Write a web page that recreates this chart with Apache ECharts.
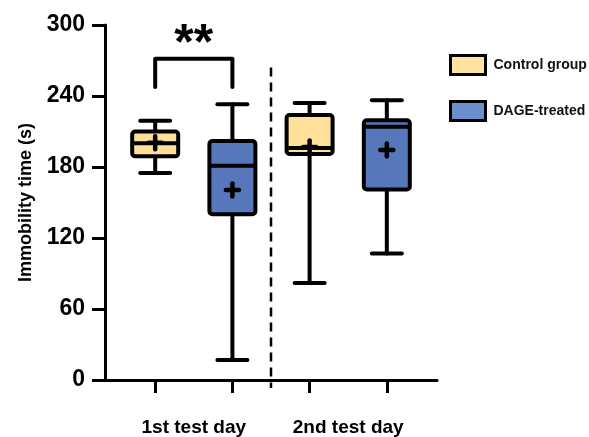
<!DOCTYPE html>
<html>
<head>
<meta charset="utf-8">
<script src="https://cdn.jsdelivr.net/npm/echarts@6/dist/echarts.min.js"></script>
<style>
html,body{margin:0;padding:0;background:#fff;}
#chart{width:589px;height:437px;}
</style>
</head>
<body>
<div id="chart"></div>
<script>
// ---- data ----
var groupLabels = ['1st test day', '2nd test day'];
var seriesNames = ['Control group', 'DAGE-treated'];
// x positions of boxes on the value axis
var controlX = [1, 3];
var dageX = [2, 4];
// [min, Q1, median, Q3, max]
var controlBox = [[175, 189, 200, 210, 219], [82, 191, 196, 224, 234]];
var dageBox = [[17, 140, 181, 202, 233], [107, 161, 214, 219.5, 236.5]];
var controlMean = [200.5, 197];
var dageMean = [160.6, 194.4];
var yTicks = [0, 60, 120, 180, 240, 300];
// significance bracket: [x1, x2, top, end]
var sigBracket = [1, 2, 271.5, 247.6];
var sigText = '**';
var sigTextY = 283;
var dividerX = 2.5;
var dividerTop = 264;

var colors = { control: '#ffe09b', dage: '#5677b9' };

function buildData(xs, boxes, means) {
  return xs.map(function (x, i) { return [x].concat(boxes[i]).concat([means[i]]); });
}

function renderBox(params, api) {
  var x = api.value(0);
  var c = function (v) { return api.coord([x, v]); };
  var pMin = c(api.value(1)), pQ1 = c(api.value(2)), pMed = c(api.value(3)),
      pQ3 = c(api.value(4)), pMax = c(api.value(5)), pMean = c(api.value(6));
  var cx = pMin[0];
  var half = 23, cap = 15, plus = 6.5;
  var fill = api.visual('color');
  var line = { stroke: '#000', lineWidth: 4, lineCap: 'round' };
  return {
    type: 'group',
    children: [
      { type: 'line', shape: { x1: cx, y1: pMax[1], x2: cx, y2: pMin[1] }, style: line },
      { type: 'line', shape: { x1: cx - cap, y1: pMax[1], x2: cx + cap, y2: pMax[1] }, style: line },
      { type: 'line', shape: { x1: cx - cap, y1: pMin[1], x2: cx + cap, y2: pMin[1] }, style: line },
      { type: 'rect', shape: { x: cx - half, y: pQ3[1], width: 2 * half, height: pQ1[1] - pQ3[1], r: 3 },
        style: { fill: fill, stroke: '#000', lineWidth: 4 } },
      { type: 'line', shape: { x1: cx - half, y1: pMed[1], x2: cx + half, y2: pMed[1] }, style: { stroke: '#000', lineWidth: 4 } },
      { type: 'line', shape: { x1: cx - plus, y1: pMean[1], x2: cx + plus, y2: pMean[1] }, style: { stroke: '#000', lineWidth: 4.5, lineCap: 'round' } },
      { type: 'line', shape: { x1: cx, y1: pMean[1] - plus, x2: cx, y2: pMean[1] + plus }, style: { stroke: '#000', lineWidth: 4.5, lineCap: 'round' } }
    ]
  };
}

function renderAnnot(params, api) {
  var b1 = api.coord([sigBracket[0], sigBracket[2]]);
  var b2 = api.coord([sigBracket[1], sigBracket[2]]);
  var e1 = api.coord([sigBracket[0], sigBracket[3]]);
  var e2 = api.coord([sigBracket[1], sigBracket[3]]);
  var t = api.coord([(sigBracket[0] + sigBracket[1]) / 2, sigTextY]);
  var dTop = api.coord([dividerX, dividerTop]);
  var dBot = api.coord([dividerX, 0]);
  return {
    type: 'group',
    children: [
      { type: 'polyline', shape: { points: [e1, b1, b2, e2] },
        style: { stroke: '#000', lineWidth: 4, fill: null, lineCap: 'round', lineJoin: 'round' } },
      { type: 'text', x: t[0], y: t[1],
        style: { text: sigText, fill: '#000', font: 'bold 50px "Liberation Sans", Arial, sans-serif',
                 align: 'center', verticalAlign: 'middle' } },
      { type: 'line', shape: { x1: dTop[0], y1: dTop[1], x2: dBot[0], y2: dBot[1] + 8 },
        style: { stroke: '#000', lineWidth: 2.5, lineDash: [9, 6] } }
    ]
  };
}

var font = '"Liberation Sans", Arial, sans-serif';
var chart = echarts.init(document.getElementById('chart'), null, { renderer: 'canvas' });
chart.setOption({
  animation: false,
  backgroundColor: '#fff',
  grid: { left: 105, right: 152, top: 25, bottom: 57 },
  legend: {
    orient: 'vertical', left: 449, top: 54, padding: 0, itemWidth: 35, itemHeight: 19, itemGap: 24,
    icon: 'rect',
    textStyle: { fontFamily: font, fontWeight: 'bold', fontSize: 14, color: '#111', padding: [0, 0, 0, 3] },
    data: [
      { name: seriesNames[0], itemStyle: { color: '#ffe3a0', borderColor: '#000', borderWidth: 3 } },
      { name: seriesNames[1], itemStyle: { color: '#6a8fcb', borderColor: '#000', borderWidth: 3 } }
    ]
  },
  xAxis: {
    type: 'value', min: 0.35, max: 4.65,
    splitLine: { show: false },
    axisLine: { lineStyle: { color: '#000', width: 3 } },
    axisTick: { show: true, customValues: [1, 2, 3, 4], length: 13, lineStyle: { color: '#000', width: 3 } },
    axisLabel: {
      customValues: [1.5, 3.5], margin: 38,
      formatter: function (v) { return v < 2.5 ? groupLabels[0] : groupLabels[1]; },
      fontFamily: font, fontWeight: 'bold', fontSize: 19, color: '#000'
    }
  },
  yAxis: {
    type: 'value', min: yTicks[0], max: yTicks[yTicks.length - 1], interval: 60,
    name: 'Immobility time (s)', nameLocation: 'middle', nameGap: 70,
    nameTextStyle: { fontFamily: font, fontWeight: 'bold', fontSize: 18, color: '#000' },
    splitLine: { show: false },
    axisLine: { show: true, lineStyle: { color: '#000', width: 3 } },
    axisTick: { show: true, length: 13, lineStyle: { color: '#000', width: 3 } },
    axisLabel: { margin: 20, fontFamily: font, fontWeight: 'bold', fontSize: 23, color: '#000' }
  },
  series: [
    { name: seriesNames[0], type: 'custom', renderItem: renderBox,
      itemStyle: { color: colors.control, borderColor: '#000', borderWidth: 3 },
      encode: { x: 0, y: [1, 2, 3, 4, 5] },
      data: buildData(controlX, controlBox, controlMean) },
    { name: seriesNames[1], type: 'custom', renderItem: renderBox,
      itemStyle: { color: colors.dage, borderColor: '#000', borderWidth: 3 },
      encode: { x: 0, y: [1, 2, 3, 4, 5] },
      data: buildData(dageX, dageBox, dageMean) },
    { name: 'annotations', type: 'custom', renderItem: renderAnnot, silent: true,
      encode: { x: 0, y: 1 }, data: [[dividerX, dividerTop]] }
  ]
});
</script>
</body>
</html>
